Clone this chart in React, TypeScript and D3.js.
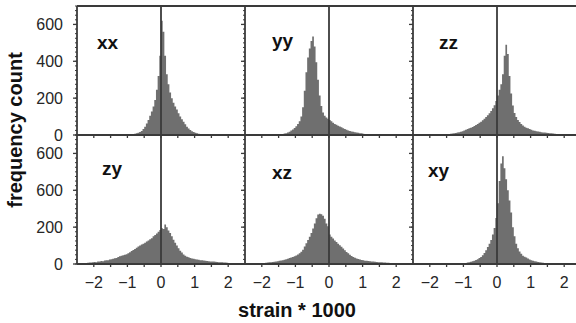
import React from "react";
import * as d3 from "d3";

// ---- data (bins of 0.05 strain*1000 units, left edges from -2.5 to 2.45) ----
const panelNames = ["xx", "yy", "zz", "zy", "xz", "xy"];
const binEdges = d3.range(0, 100).map((i) => -2.5 + i * 0.05);

const xxCounts = [
  0, 0, 0, 0, 0, 0, 0, 0, 0, 0,
  0, 0, 0, 0, 0, 0, 0, 1, 1, 1,
  1, 1, 1, 1, 2, 2, 2, 2, 3, 3,
  4, 4, 5, 6, 7, 9, 12, 16, 22, 32,
  45, 62, 82, 105, 128, 155, 190, 245, 320, 430,
  620, 560, 430, 330, 275, 230, 200, 175, 155, 138,
  118, 100, 85, 72, 58, 45, 35, 27, 21, 16,
  12, 9, 7, 5, 4, 3, 3, 2, 2, 1,
  1, 1, 1, 1, 0, 0, 0, 0, 0, 0,
  0, 0, 0, 0, 0, 0, 0, 0, 0, 0,
];
const yyCounts = [
  0, 0, 0, 0, 0, 0, 0, 0, 0, 0,
  0, 0, 0, 0, 1, 1, 1, 2, 2, 3,
  4, 5, 6, 8, 10, 13, 18, 24, 30, 38,
  48, 60, 75, 100, 150, 240, 340, 420, 470, 510,
  535, 480, 395, 300, 215, 158, 122, 105, 95, 88,
  82, 75, 66, 60, 55, 50, 46, 42, 37, 33,
  28, 25, 22, 19, 17, 15, 14, 12, 10, 9,
  7, 6, 5, 4, 3, 3, 2, 2, 1, 1,
  1, 1, 0, 0, 0, 0, 0, 0, 0, 0,
  0, 0, 0, 0, 0, 0, 0, 0, 0, 0,
];
const zzCounts = [
  0, 0, 0, 0, 0, 0, 0, 0, 1, 1,
  1, 1, 1, 1, 2, 2, 2, 3, 3, 4,
  5, 6, 7, 8, 9, 11, 13, 15, 18, 21,
  25, 28, 32, 36, 40, 44, 49, 54, 60, 66,
  72, 80, 88, 97, 107, 118, 130, 145, 162, 185,
  215, 245, 275, 330, 430, 490, 440, 320, 225, 160,
  120, 98, 82, 70, 60, 52, 45, 40, 36, 32,
  28, 25, 23, 21, 19, 17, 15, 14, 13, 12,
  11, 10, 9, 8, 7, 6, 5, 5, 4, 4,
  3, 3, 3, 2, 2, 2, 1, 1, 1, 1,
];
const zyCounts = [
  3, 4, 3, 5, 6, 5, 7, 8, 8, 10,
  11, 10, 13, 14, 16, 15, 19, 21, 20, 24,
  26, 29, 31, 33, 38, 42, 45, 47, 50, 53,
  58, 64, 70, 76, 82, 88, 95, 100, 106, 110,
  115, 122, 128, 134, 140, 150, 158, 166, 175, 185,
  195, 190, 215, 200, 182, 168, 150, 132, 115, 100,
  85, 72, 62, 52, 45, 40, 36, 33, 30, 28,
  26, 24, 23, 21, 20, 19, 18, 16, 15, 14,
  14, 13, 12, 11, 10, 10, 9, 8, 8, 7,
  6, 6, 5, 5, 4, 4, 3, 3, 2, 2,
];
const xzCounts = [
  1, 1, 1, 2, 2, 2, 3, 3, 4, 4,
  5, 6, 7, 8, 9, 10, 11, 12, 14, 15,
  17, 19, 21, 23, 26, 29, 32, 35, 38, 42,
  46, 52, 58, 66, 78, 95, 112, 130, 148, 168,
  192, 220, 248, 268, 272, 270, 262, 245, 220, 205,
  160, 148, 138, 128, 120, 110, 102, 94, 84, 74,
  65, 58, 50, 44, 38, 34, 30, 27, 24, 22,
  20, 18, 17, 16, 15, 14, 13, 12, 11, 10,
  9, 9, 8, 8, 7, 7, 6, 6, 5, 5,
  4, 4, 3, 3, 2, 2, 2, 1, 1, 1,
];
const xyCounts = [
  0, 0, 0, 0, 0, 0, 0, 0, 0, 0,
  0, 0, 0, 0, 0, 1, 1, 1, 1, 1,
  1, 1, 2, 2, 2, 3, 3, 4, 4, 5,
  5, 6, 8, 10, 12, 15, 18, 22, 26, 32,
  38, 48, 60, 75, 92, 110, 130, 160, 195, 250,
  330, 450, 545, 585, 520, 460, 400, 345, 280, 200,
  150, 110, 85, 68, 55, 45, 40, 35, 30, 24,
  20, 17, 15, 13, 11, 9, 8, 7, 6, 5,
  4, 4, 3, 3, 3, 2, 2, 2, 2, 1,
  1, 1, 1, 1, 1, 0, 0, 0, 0, 0,
];
const panelCounts = [xxCounts, yyCounts, zzCounts, zyCounts, xzCounts, xyCounts];

const xMajorTicks = [-2, -1, 0, 1, 2];
const xTickLabels = ["\u22122", "\u22121", "0", "1", "2"];
const xMinorTicks = [-2, -1.5, -1, -0.5, 0, 0.5, 1, 1.5, 2];
const yMajorTicks = [0, 200, 400, 600];
const yTickLabelsTop = ["0", "200", "400", "600"];
const yTickLabelsBottom = ["0", "200", "600", "600"];
const yMinorTicks = d3.range(0, 701, 25);

// ---- layout ----
const W = 576;
const H = 323;
const left = 77;
const top = 6;
const panelW = 168;
const panelH = 129;
const labelOffsets = [
  [20, 43], [27, 41], [26, 43],
  [25, 40], [27, 44], [15, 42],
];
const lineColor = "#3a3a3a";
const barColor = "#6f6f6f";
const textColor = "#262626";
const font = "Liberation Sans, Arial, Helvetica, sans-serif";

export default function App() {
  const panels = panelCounts.map((counts, i) => {
    const r = Math.floor(i / 3);
    const c = i % 3;
    const x = d3.scaleLinear().domain([-2.5, 2.5]).range([left + c * panelW, left + (c + 1) * panelW]);
    const y = d3.scaleLinear().domain([0, 700]).range([top + (r + 1) * panelH, top + r * panelH]);
    const pts = counts.map((v, j) => ({ e: binEdges[j], v }));
    pts.push({ e: 2.5, v: counts[counts.length - 1] });
    const area = d3
      .area<{ e: number; v: number }>()
      .x((d) => x(d.e))
      .y0(y(0))
      .y1((d) => y(d.v))
      .curve(d3.curveStepAfter);
    return { r, c, x, y, d: area(pts) || "", name: panelNames[i], off: labelOffsets[i] };
  });

  const right = left + 3 * panelW;
  const bottom = top + 2 * panelH;

  return (
    <svg
      width={W}
      height={H}
      style={{ position: "fixed", left: 0, top: 0, background: "#fff" }}
      fontFamily={font}
    >
      <rect x={0} y={0} width={W} height={H} fill="#fff" />
      {panels.map((p, i) => (
        <g key={i}>
          <path d={p.d} fill={barColor} />
          <line x1={p.x(0)} x2={p.x(0)} y1={p.y(700)} y2={p.y(0)} stroke={lineColor} strokeWidth={1.8} />
          {/* y ticks on left edge */}
          {yMinorTicks.map((t) => (
            <line key={"ym" + t} x1={p.x(-2.5) - 2} x2={p.x(-2.5)} y1={p.y(t)} y2={p.y(t)} stroke={lineColor} strokeWidth={1} />
          ))}
          {yMajorTicks.map((t) => (
            <line key={"yM" + t} x1={p.x(-2.5) - 4} x2={p.x(-2.5)} y1={p.y(t)} y2={p.y(t)} stroke={lineColor} strokeWidth={1.3} />
          ))}
          {/* x ticks at bottom edge */}
          {xMinorTicks.map((t) => (
            <line key={"xm" + t} x1={p.x(t)} x2={p.x(t)} y1={p.y(0)} y2={p.y(0) + 3} stroke={lineColor} strokeWidth={1.3} />
          ))}
          <text
            x={p.x(-2.5) + p.off[0]}
            y={p.y(700) + p.off[1]}
            fontSize={19}
            fontWeight="bold"
            fill="#111"
          >
            {p.name}
          </text>
          {p.c === 0 &&
            yMajorTicks.map((t, k) => (
              <text key={"yl" + t} x={p.x(-2.5) - 14} y={p.y(t) + 5.5} fontSize={16} textAnchor="end" fill={textColor}>
                {p.r === 0 ? yTickLabelsTop[k] : yTickLabelsBottom[k]}
              </text>
            ))}
          {p.r === 1 &&
            xMajorTicks.map((t, k) => (
              <text key={"xl" + t} x={p.x(t)} y={p.y(0) + 24} fontSize={16} textAnchor="middle" fill={textColor}>
                {xTickLabels[k]}
              </text>
            ))}
        </g>
      ))}
      {/* frame */}
      {[top, top + panelH, bottom].map((yy) => (
        <line key={"h" + yy} x1={left} x2={right} y1={yy} y2={yy} stroke={lineColor} strokeWidth={1.8} />
      ))}
      {[0, 1, 2, 3].map((k) => (
        <line key={"v" + k} x1={left + k * panelW} x2={left + k * panelW} y1={top} y2={bottom} stroke={lineColor} strokeWidth={1.8} />
      ))}
      <text x={297} y={317} fontSize={20} fontWeight="bold" textAnchor="middle" fill="#111">
        strain * 1000
      </text>
      <text
        transform={`translate(22,130) rotate(-90)`}
        fontSize={20}
        fontWeight="bold"
        textAnchor="middle"
        fill="#111"
      >
        frequency count
      </text>
    </svg>
  );
}
